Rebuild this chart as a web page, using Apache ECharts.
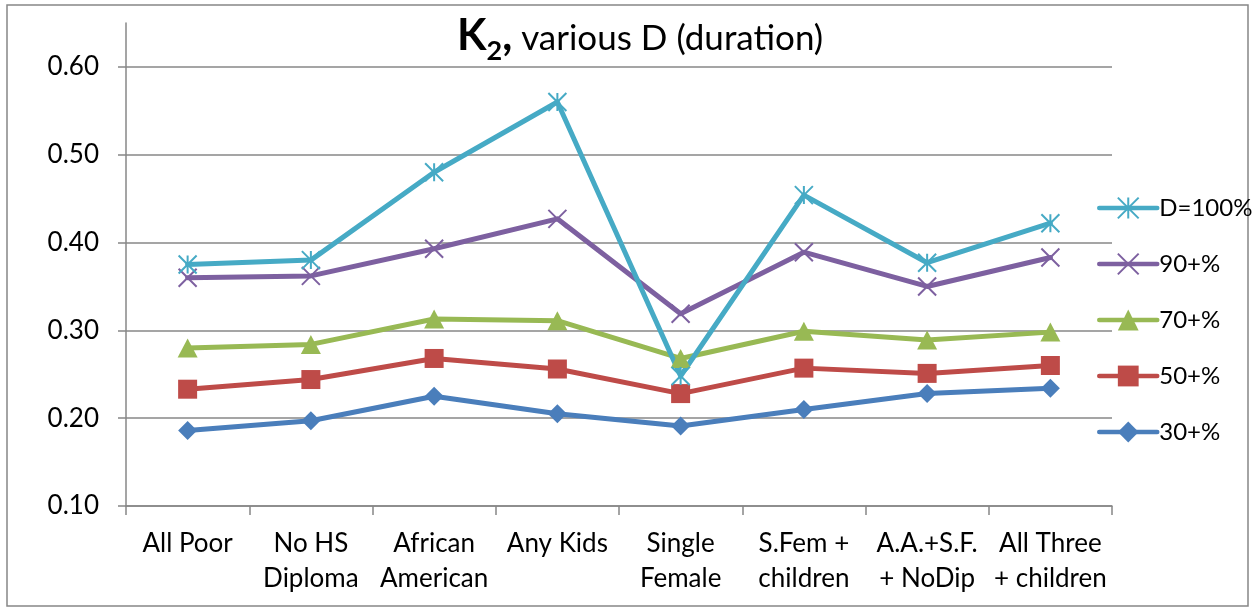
<!DOCTYPE html>
<html>
<head>
<meta charset="utf-8">
<script src="https://cdn.jsdelivr.net/npm/echarts@6/dist/echarts.min.js"></script>
<style>
  html, body { margin: 0; padding: 0; background: #fff; }
  #chart { width: 1255px; height: 609px; }
</style>
</head>
<body>
<div id="chart"></div>
<script>
// Poverty groups along the horizontal axis
const categories = [
  'All Poor', 'No HS\nDiploma', 'African\nAmerican', 'Any Kids',
  'Single\nFemale', 'S.Fem +\nchildren', 'A.A.+S.F.\n+ NoDip', 'All Three\n+ children'
];

// K2 by minimum spell duration
const d30  = [0.186, 0.197, 0.225, 0.205, 0.191, 0.210, 0.228, 0.234];
const d50  = [0.233, 0.244, 0.268, 0.256, 0.228, 0.257, 0.251, 0.260];
const d70  = [0.280, 0.284, 0.313, 0.311, 0.268, 0.299, 0.289, 0.298];
const d90  = [0.360, 0.362, 0.393, 0.427, 0.319, 0.389, 0.350, 0.383];
const d100 = [0.375, 0.380, 0.480, 0.560, 0.248, 0.454, 0.377, 0.422];

const seriesNames = ['30+%', '50+%', '70+%', '90+%', 'D=100%'];
const yTicks = { min: 0.1, max: 0.65, step: 0.1 };

const FONT = 'Lato';
const GRAY = '#878787';
const LINE_W = 5;

const X_PATH = 'path://M0,0L20,20M20,0L0,20';
const STAR_PATH = 'path://M0,0L20,20M20,0L0,20M10,0L10,20';

function lineSeries(name, data, color, symbol, size, stroked) {
  return {
    name: name,
    type: 'line',
    data: data,
    symbol: symbol,
    symbolSize: size,
    showAllSymbol: true,
    lineStyle: { color: color, width: LINE_W, cap: 'round', join: 'round' },
    itemStyle: stroked
      ? { color: 'rgba(0,0,0,0)', borderColor: color, borderWidth: 2 }
      : { color: color, borderWidth: 0 },
    emphasis: { disabled: true },
    z: 3
  };
}

const chart = echarts.init(document.getElementById('chart'), null, { renderer: 'canvas' });

chart.setOption({
  animation: false,
  backgroundColor: '#ffffff',
  textStyle: { fontFamily: FONT, color: '#000' },
  title: {
    text: '{k|K}{s|2}{c|,}{r| various D (duration)}',
    left: 457,
    top: 12,
    padding: 0,
    textStyle: {
      rich: {
        k: { fontFamily: FONT, fontSize: 43, fontWeight: 'bold', color: '#000', lineHeight: 48 },
        s: { fontFamily: FONT, fontSize: 27, fontWeight: 'bold', color: '#000', lineHeight: 30, padding: [30, 0, 0, 0] },
        c: { fontFamily: FONT, fontSize: 43, fontWeight: 'bold', color: '#000', lineHeight: 48 },
        r: { fontFamily: FONT, fontSize: 35, fontWeight: 'normal', color: '#000', lineHeight: 40, padding: [5, 0, 0, 0] }
      }
    }
  },
  legend: {
    orient: 'vertical',
    left: 1092,
    top: 190,
    itemWidth: 58,
    itemHeight: 26,
    itemGap: 30,
    data: ['D=100%', '90+%', '70+%', '50+%', '30+%'],
    lineStyle: { width: 4.5 },
    textStyle: { fontFamily: FONT, fontSize: 24, color: '#000', lineHeight: 26, padding: [0, 0, 0, -3] },
    selectedMode: false
  },
  grid: { left: 126, top: 23, right: 143, bottom: 103, containLabel: false },
  xAxis: {
    type: 'category',
    data: categories,
    boundaryGap: true,
    axisLine: { lineStyle: { color: GRAY, width: 1.5 } },
    axisTick: { show: true, length: 9, alignWithLabel: false, lineStyle: { color: GRAY, width: 1.5 } },
    axisLabel: {
      interval: 0, margin: 20, fontFamily: FONT, fontSize: 26, lineHeight: 35, color: '#000'
    },
    splitLine: { show: false }
  },
  yAxis: {
    type: 'value',
    min: yTicks.min,
    max: yTicks.max,
    interval: yTicks.step,
    axisLine: { show: true, lineStyle: { color: GRAY, width: 1.5 } },
    axisTick: { show: true, length: 8, lineStyle: { color: GRAY, width: 1.5 } },
    axisLabel: {
      margin: 27, fontFamily: FONT, fontSize: 26, color: '#000',
      showMaxLabel: false,
      formatter: v => v.toFixed(2)
    },
    splitLine: { show: true, showMaxLine: false, lineStyle: { color: GRAY, width: 1.5 } }
  },
  graphic: [{
    type: 'rect',
    shape: { x: 7, y: 5, width: 1241, height: 601 },
    style: { fill: 'none', stroke: GRAY, lineWidth: 1.5 },
    silent: true,
    z: -1
  }],
  series: [
    lineSeries(seriesNames[0], d30, '#4A7EBB', 'diamond', 19, false),
    lineSeries(seriesNames[1], d50, '#BE4B48', 'rect', 19, false),
    lineSeries(seriesNames[2], d70, '#98B954', 'triangle', [20, 19], false),
    lineSeries(seriesNames[3], d90, '#7D60A0', X_PATH, 18, true),
    lineSeries(seriesNames[4], d100, '#46AAC5', STAR_PATH, 18, true)
  ]
});
</script>
</body>
</html>
